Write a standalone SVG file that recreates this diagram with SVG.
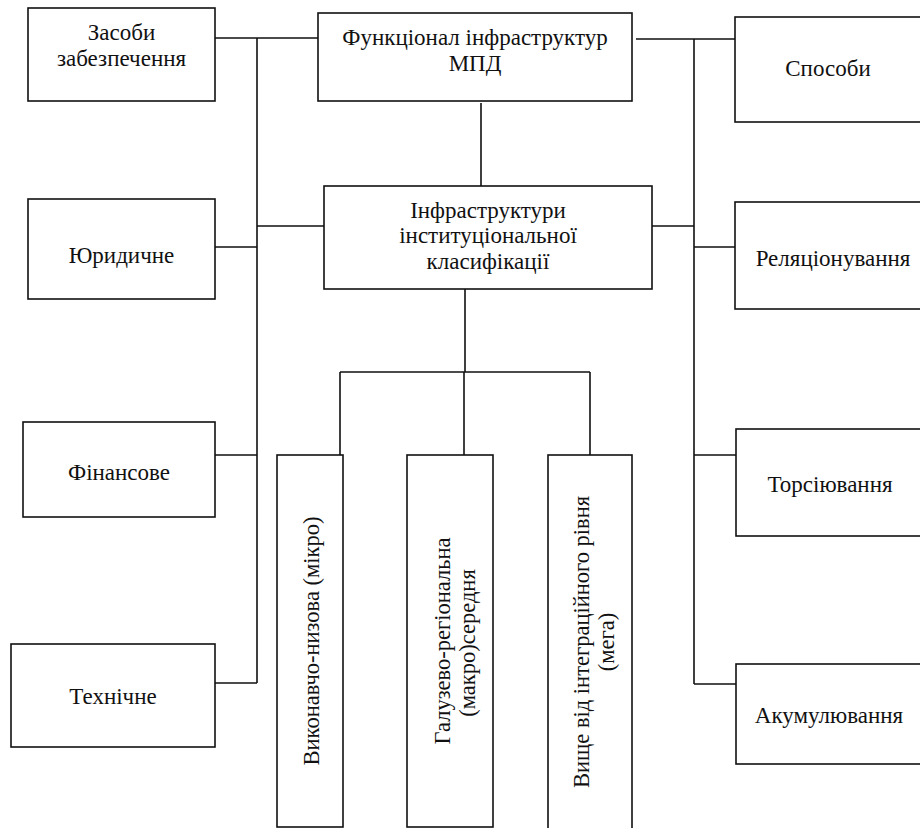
<svg xmlns="http://www.w3.org/2000/svg" width="920" height="828" viewBox="0 0 920 828">
<style>
.b{fill:#fff;stroke:#111;stroke-width:1.6}
.c{fill:none;stroke:#111;stroke-width:1.6}
.t text{font-size:23px;fill:#111;text-anchor:middle}
.t text.v{font-size:22.5px}
</style>
<rect width="920" height="828" fill="#fff"/>
<g id="connectors">
<path class="c" d="M215 38H318M257 38V683M257 226H324M215 247H257M215 455H257M215 683H257"/>
<path class="c" d="M636 39H735M694 39V684M652 226H694M694 247H735M694 455H736M694 684H736"/>
<path class="c" d="M481 103V186M465 289V372M340 372H590M340 372V455M464 372V455M590 372V455"/>
</g>
<g class="t" font-family="'Liberation Serif', 'Times New Roman', serif">
<g id="n-zasoby"><rect class="b" x="28" y="8" width="187" height="93"/><text x="121.5" y="40">Засоби</text><text x="121.5" y="66">забезпечення</text></g>
<g id="n-funk"><rect class="b" x="318" y="13" width="314" height="88"/><text x="475" y="45">Функціонал інфраструктур</text><text x="475" y="71">МПД</text></g>
<g id="n-yur"><rect class="b" x="28" y="199" width="187" height="100"/><text x="121.5" y="263">Юридичне</text></g>
<g id="n-infra"><rect class="b" x="324" y="186" width="328" height="103"/><text x="488" y="218">Інфраструктури</text><text x="488" y="243">інституціональної</text><text x="488" y="269">класифікації</text></g>
<g id="n-fin"><rect class="b" x="23" y="422" width="192" height="95"/><text x="119" y="480">Фінансове</text></g>
<g id="n-tech"><rect class="b" x="11" y="644" width="204" height="103"/><text x="113" y="704">Технічне</text></g>
<g id="n-sposoby"><rect class="b" x="735" y="17" width="200" height="105"/><text x="828" y="76">Способи</text></g>
<g id="n-rel"><rect class="b" x="735" y="202" width="200" height="107"/><text x="833" y="266">Реляціонування</text></g>
<g id="n-tors"><rect class="b" x="736" y="429" width="200" height="107"/><text x="830" y="492">Торсіювання</text></g>
<g id="n-akum"><rect class="b" x="736" y="664" width="200" height="100"/><text x="829" y="723">Акумулювання</text></g>
<g id="n-mikro"><rect class="b" x="277" y="455" width="66" height="372"/><text class="v" transform="translate(319 641) rotate(-90)">Виконавчо-низова (мікро)</text></g>
<g id="n-makro"><rect class="b" x="407" y="455" width="86" height="372"/><text class="v" transform="translate(450 641) rotate(-90)">Галузево-регіональна</text><text class="v" transform="translate(475 643) rotate(-90)">(макро)середня</text></g>
<g id="n-mega"><rect class="b" x="548" y="455" width="84" height="376"/><text class="v" transform="translate(589 642) rotate(-90)">Вище від інтеграційного рівня</text><text class="v" transform="translate(614 642) rotate(-90)">(мега)</text></g>
</g>
</svg>
